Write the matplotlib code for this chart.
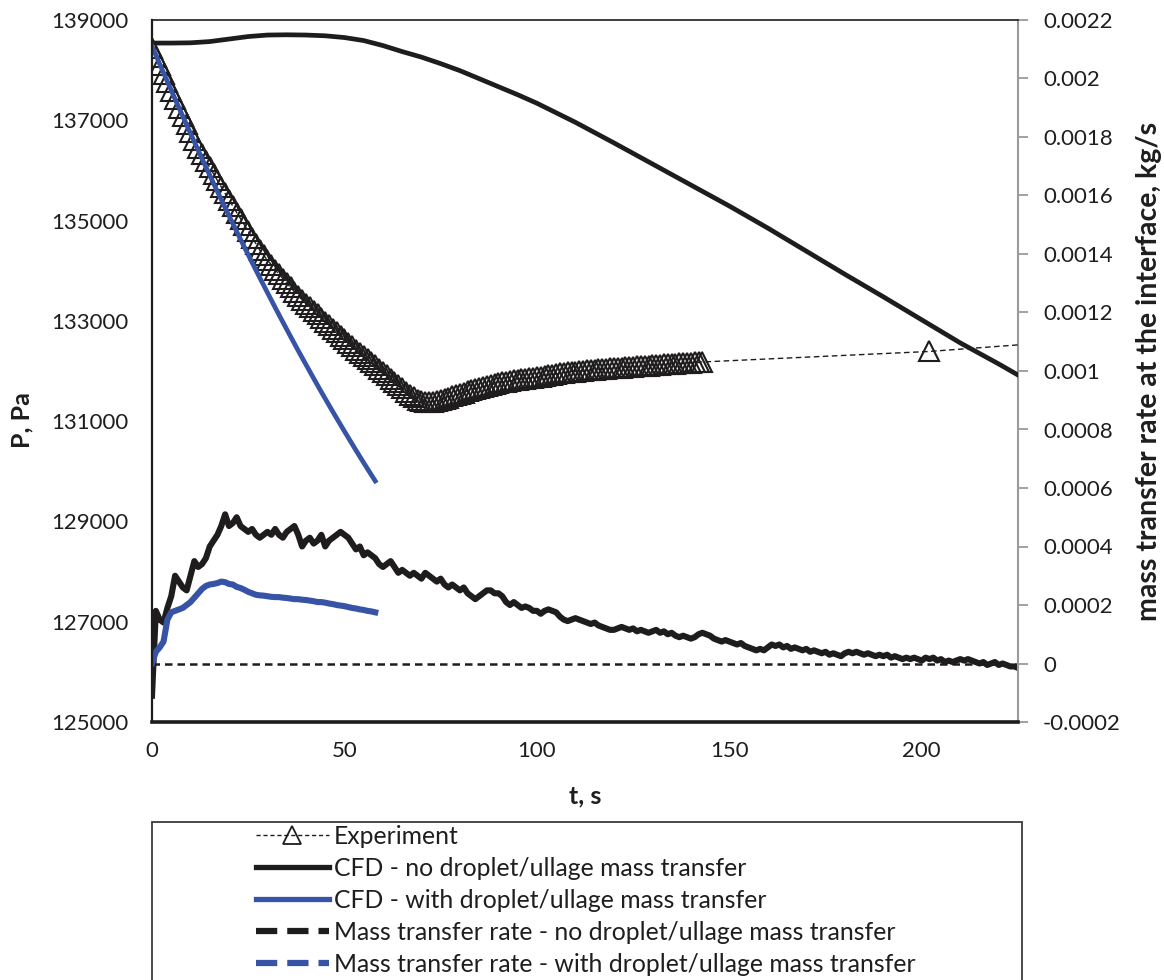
import matplotlib
matplotlib.use('Agg')
import matplotlib.pyplot as plt
from matplotlib.lines import Line2D
from matplotlib.patches import Rectangle
from matplotlib.ticker import FuncFormatter

plt.rcParams['font.family'] = ['Lato', 'DejaVu Sans']
plt.rcParams['axes.unicode_minus'] = False
fs = 16
blue = '#3753a5'
black = '#1e1c1c'
txt = '#1e1e1e'

# experiment, pressure (Pa)
exp_t = list(range(0, 144)) + [202, 260]
exp_p = [138440, 138270, 138100, 137930, 137760, 137590, 137420, 137250, 137090, 136930,
         136770, 136610, 136450, 136320, 136190, 136060, 135930, 135800, 135670, 135540,
         135410, 135290, 135160, 135040, 134910, 134790, 134660, 134540, 134410, 134310,
         134210, 134120, 134020, 133930, 133840, 133750, 133670, 133580, 133500, 133420,
         133340, 133270, 133200, 133130, 133050, 132980, 132910, 132840, 132770, 132700,
         132630, 132560, 132490, 132420, 132360, 132290, 132230, 132170, 132110, 132040,
         131980, 131920, 131850, 131790, 131730, 131660, 131590, 131530, 131480, 131430,
         131400, 131390, 131380, 131390, 131400, 131420, 131450, 131470, 131500, 131520,
         131550, 131570, 131600, 131620, 131650, 131670, 131690, 131710, 131730, 131740,
         131760, 131780, 131790, 131800, 131820, 131830, 131840, 131850, 131860, 131870,
         131880, 131890, 131910, 131920, 131930, 131940, 131960, 131970, 131980, 131990,
         131990, 132000, 132000, 132010, 132020, 132020, 132030, 132030, 132040, 132050,
         132050, 132060, 132060, 132070, 132080, 132080, 132090, 132090, 132100, 132100,
         132110, 132110, 132120, 132130, 132130, 132140, 132140, 132150, 132150, 132160,
         132160, 132170, 132170, 132180,
         132390, 132720]

# CFD without droplet/ullage mass transfer
cfd_t = [0, 5, 10, 15, 20, 25, 30, 35, 40, 45, 50, 55, 60, 65, 70, 75, 80, 85, 90, 95,
         100, 110, 120, 130, 140, 150, 160, 170, 180, 190, 200, 210, 220, 225]
cfd_p = [138540, 138540, 138545, 138570, 138620, 138670, 138700, 138705, 138700, 138685,
         138650, 138590, 138490, 138370, 138260, 138130, 137990, 137830, 137670, 137510,
         137340, 136960, 136550, 136130, 135710, 135290, 134850, 134390, 133930, 133480,
         133020, 132560, 132140, 131920]

# CFD with droplet/ullage mass transfer
cfd_drop_t = list(range(0, 60, 2))
cfd_drop_p = [138481, 138123, 137772, 137424, 137080, 136739, 136402, 136070, 135741, 135418,
              135097, 134782, 134471, 134164, 133861, 133562, 133266, 132975, 132688, 132405,
              132128, 131853, 131582, 131316, 131055, 130798, 130544, 130293, 130048, 129807]

# mass transfer rate, 1e-4 kg/s
mtr_t = list(range(0, 226))
mtr = [-1.1, 1.8, 1.5, 1.4, 1.9, 2.3, 3.0, 2.8, 2.6, 2.5,
       3.0, 3.5, 3.3, 3.4, 3.6, 4.0, 4.2, 4.4, 4.7, 5.1,
       4.7, 4.8, 5.0, 4.7, 4.6, 4.5, 4.6, 4.4, 4.3, 4.4,
       4.5, 4.4, 4.6, 4.4, 4.3, 4.5, 4.6, 4.7, 4.4, 4.0,
       4.2, 4.3, 4.1, 4.2, 4.4, 4.0, 4.2, 4.3, 4.4, 4.5,
       4.4, 4.3, 4.1, 3.9, 4.0, 3.7, 3.8, 3.7, 3.6, 3.4,
       3.3, 3.4, 3.5, 3.3, 3.1, 3.2, 3.1, 3.0, 3.1, 3.0,
       2.9, 3.1, 3.0, 2.9, 2.8, 2.9, 2.7, 2.6, 2.7, 2.6,
       2.5, 2.6, 2.4, 2.3, 2.2, 2.3, 2.4, 2.5, 2.5, 2.4,
       2.4, 2.3, 2.1, 2.0, 2.1, 2.0, 1.9, 1.95, 1.9, 1.8,
       1.8, 1.7, 1.8, 1.85, 1.8, 1.75, 1.6, 1.5, 1.45, 1.5,
       1.55, 1.5, 1.45, 1.4, 1.35, 1.4, 1.3, 1.25, 1.2, 1.15,
       1.15, 1.2, 1.25, 1.2, 1.15, 1.2, 1.1, 1.15, 1.1, 1.05,
       1.1, 1.15, 1.05, 1.1, 1.0, 1.05, 0.95, 0.9, 0.95, 0.9,
       0.85, 0.9, 1.0, 1.05, 1.0, 0.95, 0.85, 0.8, 0.75, 0.8,
       0.75, 0.7, 0.65, 0.7, 0.6, 0.55, 0.5, 0.45, 0.5, 0.45,
       0.55, 0.65, 0.6, 0.65, 0.55, 0.6, 0.5, 0.55, 0.5, 0.45,
       0.5, 0.4, 0.45, 0.4, 0.35, 0.4, 0.3, 0.35, 0.3, 0.25,
       0.35, 0.4, 0.35, 0.4, 0.35, 0.3, 0.35, 0.3, 0.25, 0.3,
       0.25, 0.3, 0.2, 0.25, 0.2, 0.15, 0.2, 0.15, 0.2, 0.15,
       0.1, 0.2, 0.15, 0.2, 0.1, 0.15, 0.05, 0.1, 0.05, 0.1,
       0.15, 0.1, 0.15, 0.1, 0.05, 0.0, 0.05, -0.05, 0.0, 0.05,
       -0.05, 0.0, -0.05, -0.1, -0.1, -0.15]
mtr_drop_t = list(range(0, 59))
mtr_drop = [0.0, 0.4, 0.55, 0.75, 1.5, 1.75, 1.8, 1.85, 1.9, 2.0,
            2.1, 2.25, 2.4, 2.55, 2.65, 2.7, 2.72, 2.75, 2.8, 2.78,
            2.72, 2.7, 2.62, 2.58, 2.52, 2.45, 2.4, 2.35, 2.33, 2.32,
            2.3, 2.28, 2.27, 2.27, 2.25, 2.24, 2.22, 2.2, 2.2, 2.18,
            2.17, 2.15, 2.13, 2.1, 2.1, 2.08, 2.05, 2.03, 2.0, 1.98,
            1.96, 1.93, 1.9, 1.88, 1.85, 1.83, 1.8, 1.78, 1.75]

labels = ['Experiment',
          'CFD - no droplet/ullage mass transfer',
          'CFD - with droplet/ullage mass transfer',
          'Mass transfer rate - no droplet/ullage mass transfer',
          'Mass transfer rate - with droplet/ullage mass transfer']

fig = plt.figure(figsize=(11.64, 9.8), dpi=100)
ax = fig.add_axes([152/1164, 1 - 722/980, 866/1164, 702/980])
ax2 = ax.twinx()

# mass transfer (right axis)
ax2.axhline(0, color=black, lw=1.8, ls=(0, (3, 2)))
ax2.plot(mtr_t, [v * 1e-4 for v in mtr], color=black, lw=4.4, solid_joinstyle='round')
ax2.plot(mtr_drop_t, [v * 1e-4 for v in mtr_drop], color=blue, lw=4.4, solid_joinstyle='round')

# pressures (left axis)
ax.plot(exp_t, exp_p, color=black, lw=1.0, ls=(0, (4, 2.5)), marker='^', ms=14,
        mfc='none', mec=black, mew=1.5)
ax.plot(cfd_t, cfd_p, color=black, lw=3.4)
ax.plot(cfd_drop_t, cfd_drop_p, color=blue, lw=3.4)

ax.set_zorder(ax2.get_zorder() + 1)
ax.patch.set_visible(False)

ax.set_xlim(0, 225)
ax.set_ylim(125000, 139000)
ax.set_xticks([0, 50, 100, 150, 200])
ax.set_yticks(range(125000, 139001, 2000))
ax2.set_ylim(-0.0002, 0.0022)
ax2.set_yticks([i * 0.0002 for i in range(-1, 12)])
ax2.yaxis.set_major_formatter(FuncFormatter(lambda v, p: '%g' % round(v, 6)))

ax.tick_params(axis='x', length=0, pad=14, labelsize=fs, labelcolor=txt)
ax.tick_params(axis='y', length=0, pad=17, labelsize=fs, labelcolor=txt)
ax2.tick_params(axis='y', direction='out', length=7, width=1.3, color='#9a9a9a',
                pad=11, labelsize=fs, labelcolor=txt)

for s in ['left', 'top', 'bottom']:
    ax2.spines[s].set_visible(False)
ax.spines['right'].set_visible(False)
ax2.spines['right'].set_color('#9a9a9a')
ax2.spines['right'].set_linewidth(1.5)
ax.spines['left'].set_color(black)
ax.spines['left'].set_linewidth(1.6)
ax.spines['bottom'].set_color(black)
ax.spines['bottom'].set_linewidth(2.6)
ax.spines['top'].set_color(black)
ax.spines['top'].set_linewidth(1.2)

ax.set_xlabel('t, s', fontsize=18, fontweight='bold', color=txt, va='center')
ax.xaxis.set_label_coords(0.5, -0.106)
ax.set_ylabel('P, Pa', fontsize=18, fontweight='bold', color=txt, va='center')
ax.yaxis.set_label_coords(-0.150, 0.43)
ax2.set_ylabel('mass transfer rate at the interface, kg/s', fontsize=20.5,
               fontweight='bold', color=txt, va='center')
ax2.yaxis.set_label_coords(1.151, 0.5)

# legend box under the chart
fig.patches.append(Rectangle((152/1164, -0.02), 870/1164, 0.02 + 1 - 822/980,
                             transform=fig.transFigure, fill=False,
                             edgecolor='#3a3a3a', lw=1.3))
handles = [
    Line2D([0], [0], color=black, lw=1.0, ls=(0, (3, 2)), marker='^', ms=13,
           mfc='none', mec=black, mew=1.3),
    Line2D([0], [0], color=black, lw=3.8),
    Line2D([0], [0], color=blue, lw=3.8),
    Line2D([0], [0], color=black, lw=4.5, ls=(0, (3.4, 1.6))),
    Line2D([0], [0], color=blue, lw=4.5, ls=(0, (3.4, 1.6))),
]
leg = fig.legend(handles, labels, loc='upper left', bbox_to_anchor=(256/1164, 1 - 825/980),
                 frameon=False, fontsize=17.8, handlelength=2.95, handletextpad=0.2,
                 labelspacing=0.36, borderpad=0, borderaxespad=0)
for t in leg.get_texts():
    t.set_color(txt)

fig.savefig('out.png', dpi=100)
